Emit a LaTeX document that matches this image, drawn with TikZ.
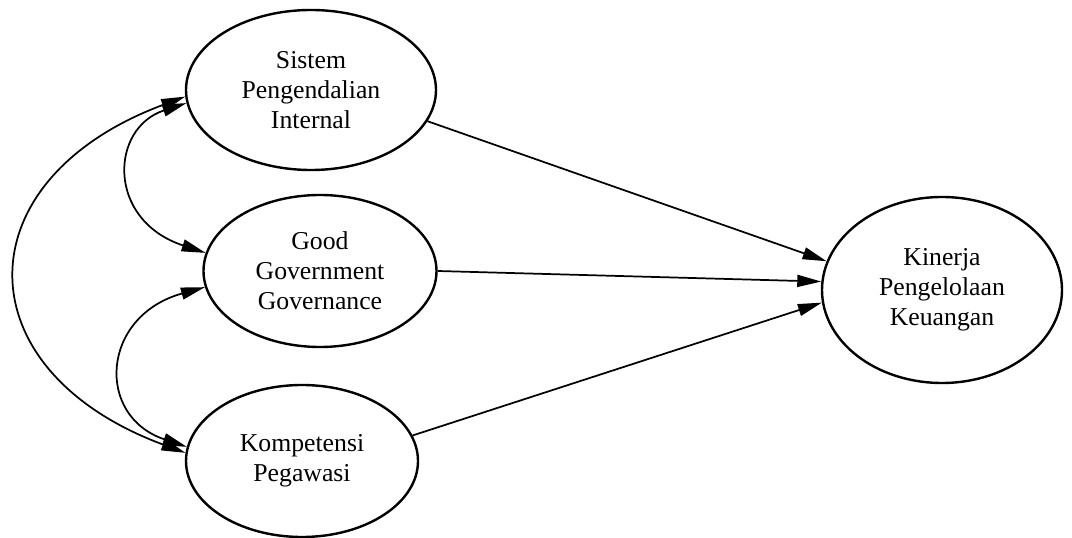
\documentclass[tikz,border=0pt]{standalone}
\usepackage{fontspec}
\setmainfont{Liberation Serif}
\usetikzlibrary{arrows.meta,shapes.geometric}
\begin{document}
\begin{tikzpicture}[x=0.75pt,y=-0.75pt,
  latent/.style={ellipse,draw,line width=1.8pt,inner sep=0pt,align=center,
    font=\fontsize{19.3}{22.5}\selectfont},
  conn/.style={line width=1.3pt,-{Triangle[length=18pt,width=9pt]}},
  bidir/.style={line width=1.3pt,{Triangle[length=18pt,width=9pt]}-{Triangle[length=18pt,width=9pt]}}]
\useasboundingbox (0,0) rectangle (1072,538);
\node[latent,minimum width=187.5pt,minimum height=120pt] (s) at (311,90) {Sistem\\Pengendalian\\Internal};
\node[latent,minimum width=174.75pt,minimum height=114pt] (g) at (320,271) {Good\\Government\\Governance};
\node[latent,minimum width=174pt,minimum height=114pt] (k) at (302,461) {Kompetensi\\Pegawasi};
\node[latent,minimum width=180pt,minimum height=139.5pt] (ki) at (942,290) {Kinerja\\Pengelolaan\\Keuangan};
\draw[conn] (s.-15) -- (ki.166);
\draw[conn] (g.0) -- (ki.176);
\draw[conn] (k.13) -- (ki.186);
\draw[bidir] (s.186) .. controls (110,128) and (106,220) .. (g.171);
\draw[bidir] (s.183) .. controls (-38,180) and (-38,370) .. (k.176);
\draw[bidir] (g.188) .. controls (101,316) and (95,416) .. (k.173);
\end{tikzpicture}
\end{document}
